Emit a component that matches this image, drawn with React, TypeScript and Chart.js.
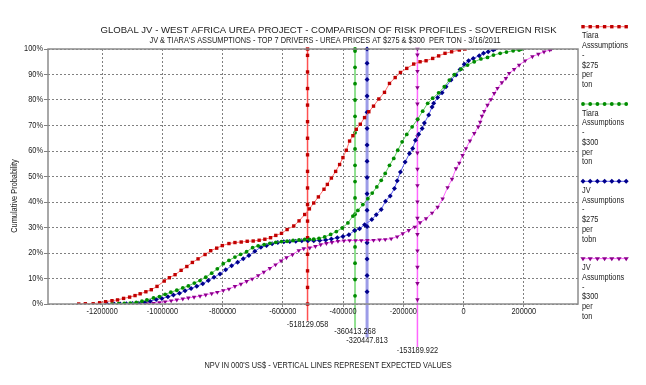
import React, { useEffect, useRef } from 'react';
import { Chart, registerables } from 'chart.js';

Chart.register(...registerables);

const TITLE = 'GLOBAL JV - WEST AFRICA UREA PROJECT - COMPARISON OF RISK PROFILES - SOVEREIGN RISK';
const SUBTITLE = "JV & TIARA'S ASSUMPTIONS - TOP 7 DRIVERS - UREA PRICES AT $275 & $300  PER TON - 3/16/2011";
const X_TITLE = "NPV IN 000'S US$ - VERTICAL LINES REPRESENT EXPECTED VALUES";
const Y_TITLE = 'Cumulative Probability';

const SERIES_LABELS = [
  'Tiara Asssumptions - $275 per ton',
  'Tiara Assumptions - $300 per ton',
  'JV Assumptions - $275 per tobn',
  'JV Assumptions - $300 per ton',
];

const X_TICKS = [-1200000, -1000000, -800000, -600000, -400000, -200000, 0, 200000];
const Y_TICKS = [0, 10, 20, 30, 40, 50, 60, 70, 80, 90, 100];

// Tiara $275
const TIARA_275_NPV = [-1278000, -1256000, -1230000, -1208500, -1188700, -1167500, -1149000, -1129000, -1109000, -1091000, -1074000, -1055000, -1037000, -1018000, -994000, -977000, -958000, -938000, -919000, -900600, -881700, -858500, -839700, -819800, -801300, -779100, -759200, -738400, -718500, -698600, -678800, -659900, -641000, -623500, -604600, -586000, -563900, -546300, -527500, -512000, -497600, -482100, -463500, -452300, -439000, -424800, -411600, -400600, -389400, -378500, -367500, -356300, -343000, -328800, -314600, -299000, -281400, -262600, -246000, -227100, -209600, -188700, -165600, -144400, -124500, -102600, -82800, -61600, -39700, -14200, 4600];
const TIARA_275_PROB = [0, 0.1, 0.1, 0.5, 0.9, 1.3, 1.6, 2.2, 2.7, 3.3, 4.0, 4.8, 5.6, 6.9, 9.0, 10.3, 11.5, 13.2, 14.7, 16.3, 17.7, 19.4, 20.9, 21.9, 22.9, 23.7, 24.1, 24.3, 24.6, 24.7, 25.0, 25.4, 26.0, 26.9, 27.7, 29.2, 30.6, 32.6, 35.1, 37.3, 39.6, 42.0, 45.0, 46.9, 49.4, 52.0, 54.7, 57.4, 60.3, 63.9, 66.0, 68.5, 70.5, 73.1, 75.4, 77.6, 80.4, 83.0, 86.5, 88.8, 90.8, 92.4, 94.1, 95.0, 95.4, 96.3, 97.3, 98.3, 98.9, 99.6, 100];

// Tiara $300
const TIARA_300_NPV = [-1167500, -1145600, -1126800, -1106900, -1087000, -1068100, -1051600, -1029700, -1009900, -991000, -972100, -952300, -932400, -913900, -894000, -875100, -856200, -836400, -817800, -798000, -779100, -759200, -740400, -720500, -700600, -682100, -662200, -643300, -623500, -604600, -586000, -566200, -546300, -527500, -512000, -497600, -480100, -461200, -441400, -422500, -402600, -384100, -367500, -351000, -334400, -317900, -303300, -288100, -273500, -260200, -246000, -231800, -218500, -204000, -188700, -170800, -152300, -135800, -119200, -102600, -82800, -63900, -47300, -30800, -8600, 13200, 35400, 57600, 79500, 99300, 121500, 142400, 164600, 184400, 192000];
const TIARA_300_PROB = [0, 0.1, 0.2, 0.3, 0.6, 1.1, 1.6, 2.4, 2.9, 3.8, 4.6, 5.4, 6.3, 7.1, 8.2, 9.2, 10.5, 12.1, 13.8, 15.8, 17.1, 18.4, 19.5, 20.5, 22.1, 22.8, 23.3, 23.8, 24.2, 24.5, 24.6, 24.9, 25.1, 25.3, 25.35, 25.4, 25.7, 26.3, 27.3, 28.4, 29.8, 31.8, 34.5, 36.7, 39.0, 41.3, 43.5, 45.9, 48.5, 51.2, 54.4, 57.1, 60.3, 63.6, 66.5, 69.5, 72.5, 75.6, 78.7, 80.7, 82.8, 85.2, 87.8, 89.9, 92.1, 93.7, 95.0, 96.1, 96.7, 97.6, 98.3, 98.8, 99.3, 99.6, 100];

// JV $275
const JV_275_NPV = [-1184000, -1160000, -1140000, -1120000, -1099000, -1079000, -1059500, -1040700, -1020800, -1001900, -982000, -963500, -943600, -924800, -904900, -886000, -866200, -847600, -828800, -808900, -790000, -770200, -750300, -731700, -712900, -693000, -673100, -654300, -635700, -616900, -597000, -577100, -557300, -537400, -517000, -497600, -477800, -457900, -439000, -419200, -400600, -380800, -361900, -345300, -328800, -304600, -290000, -273500, -259300, -243700, -229500, -220500, -209600, -194000, -179800, -168900, -159900, -149000, -137700, -130100, -115900, -104600, -99300, -86100, -71500, -58300, -41700, -25200, -11900, 2300, 16600, 32100, 52000, 66200, 81800, 98300, 104000];
const JV_275_PROB = [0, 0, 0, 0.1, 0.2, 0.3, 0.7, 1.1, 1.8, 2.2, 2.8, 3.5, 4.2, 5.2, 6.1, 7.0, 7.9, 9.2, 10.5, 11.8, 13.4, 15.0, 16.4, 17.7, 19.0, 20.7, 22.3, 22.9, 23.6, 24.1, 24.4, 24.5, 24.6, 24.8, 24.8, 24.8, 24.9, 25.1, 25.5, 26.0, 26.5, 27.2, 28.8, 29.5, 31.1, 33.1, 35.0, 37.1, 40.3, 42.4, 45.3, 48.3, 51.8, 55.7, 59.0, 61.0, 64.2, 66.6, 68.8, 71.0, 74.1, 77.3, 78.7, 81.0, 82.8, 85.2, 87.8, 89.8, 92.0, 94.0, 95.4, 96.3, 97.4, 98.3, 98.9, 99.6, 100];

// JV $300
const JV_300_NPV = [-1123000, -1098000, -1073800, -1051600, -1029700, -1009900, -991000, -971100, -952300, -932400, -913900, -895000, -875100, -856200, -836400, -817800, -798000, -779100, -759200, -739400, -720500, -701900, -682100, -663200, -643300, -624400, -605900, -588000, -568200, -547300, -530800, -510900, -492000, -474500, -455600, -437000, -417200, -397300, -378500, -358600, -339700, -319400, -299000, -279100, -260200, -240400, -220500, -202000, -182100, -162200, -144400, -124500, -104600, -86100, -69500, -53000, -38400, -25200, -14200, -3300, 7900, 21200, 35400, 48700, 55300, 60900, 68500, 79500, 90700, 101600, 112600, 127100, 140400, 151300, 167900, 184400, 204300, 228500, 248300, 267200, 286100, 291400];
const JV_300_PROB = [0, 0.05, 0.1, 0.2, 0.3, 0.6, 0.9, 1.3, 1.6, 2.0, 2.4, 2.7, 3.1, 3.6, 4.1, 4.6, 5.3, 5.9, 6.9, 7.8, 8.9, 9.8, 11.2, 12.5, 14.0, 15.4, 16.9, 18.2, 19.4, 21.0, 21.7, 22.0, 22.6, 23.3, 23.8, 24.2, 24.6, 24.8, 24.9, 24.9, 24.9, 25.0, 25.0, 25.2, 25.3, 25.6, 26.4, 27.6, 28.9, 30.2, 31.9, 33.5, 35.7, 38.0, 41.3, 45.7, 49.0, 53.1, 55.3, 58.3, 61.0, 64.0, 66.9, 69.5, 71.4, 73.7, 75.6, 78.0, 80.2, 82.6, 84.6, 86.8, 88.5, 90.5, 92.0, 93.7, 95.4, 97.0, 98.0, 98.9, 99.6, 100];

// Expected values (vertical lines)
const EXPECTED_VALUES = [-518129.058, -360413.268, -320447.813, -153189.922];
const EV_RED_PROB = [-6.6, 0, 6.5, 13, 19.5, 26, 32.5, 39, 45.5, 52, 58.5, 65, 71.5, 78, 84.5, 91, 97.5, 100];
const EV_GREEN_PROB = [-9.4, -3.2, 3.2, 9.6, 16, 22.4, 28.8, 35.2, 41.6, 48, 54.4, 60.8, 67.2, 73.6, 80, 86.4, 92.8, 99.2, 100];
const EV_BLUE_PROB = [-13.1, -8, -1.6, 4.8, 11.2, 17.6, 24, 30.4, 36.8, 43.2, 49.6, 56, 62.4, 68.8, 75.2, 81.6, 88, 94.4, 100];
const EV_MAGENTA_PROB = [-16.9, -10.9, -4.5, 1.7, 8.1, 14.5, 20.9, 27.3, 33.7, 40.1, 46.5, 52.9, 59.3, 65.7, 72.1, 78.5, 84.9, 91.3, 97.7, 100];

const SERIES_NPV = [TIARA_275_NPV, TIARA_300_NPV, JV_275_NPV, JV_300_NPV];
const SERIES_PROB = [TIARA_275_PROB, TIARA_300_PROB, JV_275_PROB, JV_300_PROB];
const EV_PROBS = [EV_RED_PROB, EV_GREEN_PROB, EV_BLUE_PROB, EV_MAGENTA_PROB];

const LINE_COLORS = ['#ff7070', '#66cc66', '#6060f0', '#ff66ff'];
const POINT_COLORS = ['#c00000', '#008c00', '#00008c', '#8c008c'];
const POINT_STYLES = ['rect', 'circle', 'rectRot', 'triangle'];
const POINT_RADII = [2.4, 1.9, 2.5, 2.6];
const POINT_ROTATIONS = [0, 0, 0, 180];
const EV_LINE_COLORS = ['#ff5050', '#90e090', '#9c9ce8', '#ff66ff'];
const EV_LINE_WIDTHS = [1.5, 2, 3, 1.5];

const FONT_REG = "'Liberation Sans', Arial, sans-serif";
const NARROW = 0.82;
const TEXT_COLOR = '#222';
const GRID_COLOR = '#808080';

function drawMarker(ctx: CanvasRenderingContext2D, style: string, x: number, y: number, r: number, color: string) {
  ctx.fillStyle = color;
  ctx.beginPath();
  if (style === 'rect') {
    const s = r * Math.SQRT1_2;
    ctx.rect(x - s, y - s, 2 * s, 2 * s);
  } else if (style === 'circle') {
    ctx.arc(x, y, r, 0, Math.PI * 2);
  } else if (style === 'rectRot') {
    ctx.moveTo(x, y - r);
    ctx.lineTo(x + r, y);
    ctx.lineTo(x, y + r);
    ctx.lineTo(x - r, y);
    ctx.closePath();
  } else {
    const h = r * 1.5;
    ctx.moveTo(x - r, y - h / 3);
    ctx.lineTo(x + r, y - h / 3);
    ctx.lineTo(x, y + (2 * h) / 3);
    ctx.closePath();
  }
  ctx.fill();
}

function narrowText(ctx: CanvasRenderingContext2D, text: string, x: number, y: number, align: CanvasTextAlign, size = 9, rot = 0) {
  ctx.save();
  ctx.translate(x, y);
  if (rot) ctx.rotate(rot);
  ctx.scale(NARROW, 1);
  ctx.font = `${size}px ${FONT_REG}`;
  ctx.textAlign = align;
  ctx.textBaseline = 'middle';
  ctx.fillStyle = TEXT_COLOR;
  ctx.fillText(text, 0, 0);
  ctx.restore();
}

const decorPlugin = {
  id: 'decor',
  afterDraw(chart: any) {
    const ctx: CanvasRenderingContext2D = chart.ctx;
    const area = chart.chartArea;
    const xs = chart.scales.x;
    const ys = chart.scales.y;
    ctx.save();
    // frame
    ctx.strokeStyle = '#8c8c8c';
    ctx.lineWidth = 1.5;
    ctx.setLineDash([]);
    ctx.strokeRect(area.left, area.top, area.right - area.left, area.bottom - area.top);

    // titles
    ctx.fillStyle = TEXT_COLOR;
    ctx.textAlign = 'center';
    ctx.textBaseline = 'middle';
    ctx.font = `9.55px ${FONT_REG}`;
    ctx.fillText(TITLE, 328.5, 30);
    narrowText(ctx, SUBTITLE, 325, 40.5, 'center', 9);

    // axis titles
    narrowText(ctx, X_TITLE, 328, 366, 'center', 9);
    narrowText(ctx, Y_TITLE, 15, 196, 'center', 9, -Math.PI / 2);

    // tick labels
    X_TICKS.forEach((v) => {
      narrowText(ctx, String(v), xs.getPixelForValue(v), 312, 'center', 9);
    });
    Y_TICKS.forEach((v) => {
      narrowText(ctx, v + '%', area.left - 5, ys.getPixelForValue(v), 'right', 9);
    });

    // expected value labels
    EXPECTED_VALUES.forEach((ev, i) => {
      const px = xs.getPixelForValue(ev);
      const py = ys.getPixelForValue(EV_PROBS[i][0]) + 3.5;
      narrowText(ctx, ev.toFixed(3), px, py, 'center', 9);
    });

    // legend
    SERIES_LABELS.forEach((label, i) => {
      const y0 = 26.7 + i * 77.3;
      ctx.strokeStyle = LINE_COLORS[i];
      ctx.lineWidth = 1;
      ctx.beginPath();
      ctx.moveTo(582, y0);
      ctx.lineTo(627, y0);
      ctx.stroke();
      for (let k = 0; k < 7; k++) {
        const st = POINT_STYLES[i] === 'triangle' ? 'tri' : POINT_STYLES[i];
        drawMarker(ctx, st, 583 + k * 7.2, y0, POINT_RADII[i], POINT_COLORS[i]);
      }
      label.split(' ').forEach((w, j) => {
        narrowText(ctx, w, 582, y0 + 9.3 + j * 9.7, 'left', 9);
      });
    });
    ctx.restore();
  },
};

export default function App() {
  const ref = useRef<HTMLCanvasElement | null>(null);

  useEffect(() => {
    document.body.style.margin = '0';
    const canvas = ref.current;
    if (!canvas) return;

    const curveSets = SERIES_LABELS.map((label, i) => ({
      label,
      data: SERIES_NPV[i].map((x, k) => ({ x, y: SERIES_PROB[i][k] })),
      borderColor: LINE_COLORS[i],
      borderWidth: 1,
      backgroundColor: POINT_COLORS[i],
      pointBackgroundColor: POINT_COLORS[i],
      pointBorderWidth: 0,
      pointStyle: POINT_STYLES[i],
      pointRadius: POINT_RADII[i],
      pointRotation: POINT_ROTATIONS[i],
      tension: 0,
      fill: false,
    }));

    const evSets = EXPECTED_VALUES.map((ev, i) => ({
      label: 'EV ' + SERIES_LABELS[i],
      data: EV_PROBS[i].map((y) => ({ x: ev, y })),
      borderColor: EV_LINE_COLORS[i],
      borderWidth: EV_LINE_WIDTHS[i],
      backgroundColor: POINT_COLORS[i],
      pointBackgroundColor: POINT_COLORS[i],
      pointBorderWidth: 0,
      pointStyle: POINT_STYLES[i],
      pointRadius: POINT_RADII[i],
      pointRotation: POINT_ROTATIONS[i],
      tension: 0,
      fill: false,
      clip: false,
    }));

    const chart = new Chart(canvas, {
      type: 'line',
      data: { datasets: [...curveSets, ...evSets] as any },
      options: {
        responsive: false,
        animation: false,
        devicePixelRatio: 1,
        layout: { padding: { top: 49, right: 68, left: 0, bottom: 0 } },
        plugins: { legend: { display: false }, tooltip: { enabled: false }, title: { display: false } },
        scales: {
          x: {
            type: 'linear',
            min: -1380000,
            max: 380000,
            afterBuildTicks: (s: any) => {
              s.ticks = X_TICKS.map((v) => ({ value: v }));
            },
            afterFit: (s: any) => {
              s.height = 81;
            },
            border: { display: false, dash: [2, 2] },
            grid: { color: GRID_COLOR, lineWidth: 1, tickLength: 3, tickColor: GRID_COLOR, tickBorderDash: [] },
            ticks: { display: false, autoSkip: false, maxRotation: 0 },
          },
          y: {
            type: 'linear',
            min: 0,
            max: 100,
            afterBuildTicks: (s: any) => {
              s.ticks = Y_TICKS.map((v) => ({ value: v }));
            },
            afterFit: (s: any) => {
              s.width = 48;
            },
            border: { display: false, dash: [2, 2] },
            grid: { color: GRID_COLOR, lineWidth: 1, tickLength: 4, tickColor: GRID_COLOR, tickBorderDash: [] },
            ticks: { display: false },
          },
        },
      } as any,
      plugins: [decorPlugin],
    });

    return () => chart.destroy();
  }, []);

  return <canvas ref={ref} width={646} height={385} style={{ display: 'block' }} />;
}
